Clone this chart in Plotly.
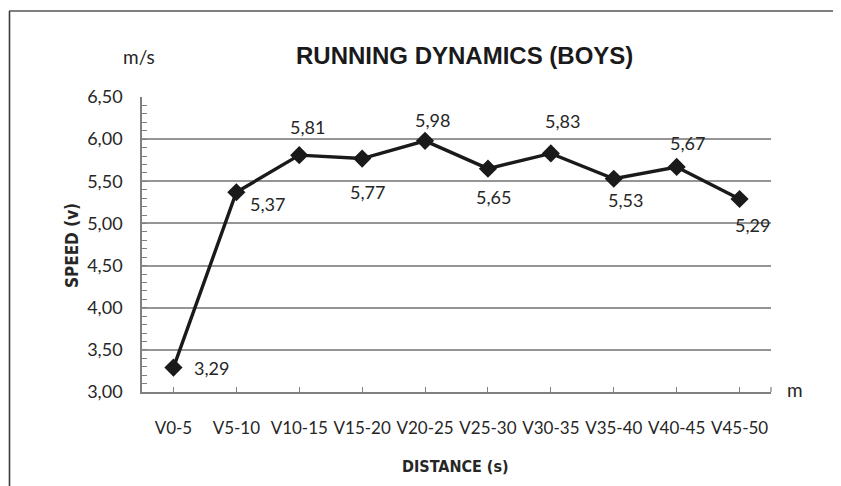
import plotly.graph_objects as go

categories = ["V0-5", "V5-10", "V10-15", "V15-20", "V20-25", "V25-30", "V30-35", "V35-40", "V40-45", "V45-50"]
speed = [3.29, 5.37, 5.81, 5.77, 5.98, 5.65, 5.83, 5.53, 5.67, 5.29]
value_labels = ["3,29", "5,37", "5,81", "5,77", "5,98", "5,65", "5,83", "5,53", "5,67", "5,29"]
y_tickvals = [3.0, 3.5, 4.0, 4.5, 5.0, 5.5, 6.0, 6.5]
y_ticktext = ["3,00", "3,50", "4,00", "4,50", "5,00", "5,50", "6,00", "6,50"]

# label offsets (px) relative to each marker
label_dx = [38, 31, 8, 5, 7, 6, 12, 12, 11, 13]
label_dy = [0, -12, 28, -33, 21, -28, 32, -21, 24, -26]

TXT = "#262626"
FONT = "Lato"
COND = "DejaVu Sans Condensed, Liberation Sans, sans-serif"

OFF = 8  # page body margin offset
FW, FH = 841 - OFF, 486 - OFF

fig = go.Figure()
fig.add_trace(go.Scatter(
    x=categories, y=speed, mode="lines+markers",
    line=dict(color="#1a1a1a", width=3.4),
    marker=dict(symbol="diamond", size=14, color="#1a1a1a"),
    showlegend=False, hoverinfo="skip",
))

annotations = []
for c, v, t, dx, dy in zip(categories, speed, value_labels, label_dx, label_dy):
    annotations.append(dict(x=c, y=v, xref="x", yref="y", text=t, showarrow=False,
                            xshift=dx, yshift=dy, font=dict(family=FONT, size=18, color=TXT)))

# titles and units (positions in page pixels)
annotations += [
    dict(text="<b>RUNNING DYNAMICS (BOYS)</b>", x=464, y=56,
         font=dict(family="Liberation Sans", size=24, color="#1a1a1a")),
    dict(text="m/s", x=139, y=57, font=dict(family=FONT, size=19, color=TXT)),
    dict(text="m", x=795, y=389, font=dict(family=FONT, size=19, color=TXT)),
    dict(text="<b>SPEED (v)</b>", x=72, y=246, textangle=-90,
         font=dict(family=COND, size=17, color=TXT)),
    dict(text="<b>DISTANCE (s)</b>", x=455, y=466,
         font=dict(family=COND, size=16, color=TXT)),
]

# plot area in page pixels
L, R, T, B = 142, 771, 97, 392
W, H = R - L, B - T

def px(x):
    return (x - L) / W

def py(y):
    return (B - y) / H

for a in annotations:
    if a.get("xref") == "x":
        continue
    a.update(xref="paper", yref="paper", x=px(a["x"]), y=py(a["y"]),
             xanchor="center", yanchor="middle", showarrow=False)

shapes = [
    # outer frame (left and top)
    dict(type="line", xref="paper", yref="paper", x0=px(9.5), x1=px(9.5), y0=py(11), y1=py(490),
         line=dict(color="#3a3a3a", width=1.6)),
    dict(type="line", xref="paper", yref="paper", x0=px(9), x1=px(845), y0=py(11), y1=py(11),
         line=dict(color="#555555", width=1.6)),
    # end tick on x axis
    dict(type="line", xref="paper", yref="paper", x0=1, x1=1, y0=0, y1=py(387),
         line=dict(color="#808080", width=1.2)),
]

fig.update_layout(
    width=FW, height=FH,
    margin=dict(l=L - OFF, r=841 - R, t=T - OFF, b=486 - B),
    paper_bgcolor="white", plot_bgcolor="white",
    annotations=annotations, shapes=shapes,
    xaxis=dict(
        type="category", range=[-0.5, 9.5],
        showline=True, linecolor="#808080", linewidth=1.6,
        ticks="inside", ticklen=5, tickcolor="#808080", tickwidth=1.2,
        showgrid=False, zeroline=False,
        tickfont=dict(family=FONT, size=17, color=TXT),
        ticklabelstandoff=20,
    ),
    yaxis=dict(
        range=[3.0, 6.5], tickvals=y_tickvals, ticktext=y_ticktext,
        showline=True, linecolor="#808080", linewidth=1.6,
        ticks="inside", ticklen=5, tickcolor="#808080", tickwidth=1.2,
        minor=dict(ticks="inside", dtick=0.1, tick0=3.0, ticklen=5, tickcolor="#808080", tickwidth=1, showgrid=False),
        showgrid=True, gridcolor="#959595", gridwidth=1.6, zeroline=False,
        tickfont=dict(family=FONT, size=18, color=TXT),
        ticklabelstandoff=14,
    ),
)

fig.write_html("out.html")
